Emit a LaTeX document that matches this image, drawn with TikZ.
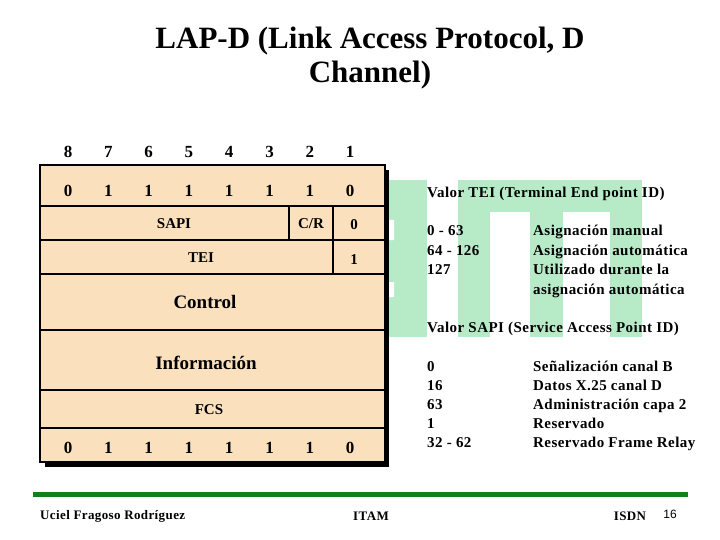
\documentclass[tikz,border=0pt]{standalone}
\usepackage{fontspec}
\setmainfont{Liberation Serif}
\newfontfamily\pagesans{Liberation Sans}
\newfontfamily\notefont[LetterSpace=3]{Liberation Serif}
\usetikzlibrary{positioning}
\definecolor{framefill}{RGB}{251,224,189}
\definecolor{logogreen}{RGB}{183,235,200}
\definecolor{rulegreen}{RGB}{18,128,28}

\tikzset{
  bitlbl/.style={font=\bfseries\fontsize{17}{17}\selectfont, inner sep=0pt},
  fieldlbl/.style={font=\bfseries\fontsize{15}{15}\selectfont, inner sep=0pt},
  bigfield/.style={font=\bfseries\fontsize{19}{19}\selectfont, inner sep=0pt},
  infotxt/.style={font=\notefont\bfseries\fontsize{15}{15}\selectfont, anchor=base west, inner sep=0pt},
  foottxt/.style={font=\notefont\bfseries\fontsize{13}{13}\selectfont, inner sep=0pt}
}

\begin{document}
\begin{tikzpicture}[x=1pt, y=-1pt]
    \useasboundingbox (0,0) rectangle (720,540);

    % title
    \node[font=\bfseries\fontsize{31}{34}\selectfont, align=center] (title) at (370,58)
        {LAP-D (Link Access Protocol, D\\Channel)};

    % logo behind the notes
    \fill[logogreen] (388,180) rectangle (427,337);
    \fill[white] (388,220) rectangle (394,240) (388,282) rectangle (394,297);
    \fill[logogreen] (458,180) rectangle (642,212);
    \fill[logogreen] (458,180) rectangle (490,337);
    \fill[logogreen] (530,180) rectangle (563,337);
    \fill[logogreen] (610,180) rectangle (642,337);

    % frame layout
    \fill[black] (45,170) rectangle (389,467);
    \draw[fill=framefill, line width=2pt] (40,165) rectangle (385,462);
    \foreach \yy in {206,240,274,330,390,428}
        \draw[line width=2pt] (40,\yy) -- (385,\yy);
    \draw[line width=2pt] (289,206) -- (289,240);
    \draw[line width=2pt] (333,206) -- (333,274);

    \foreach \b [count=\i] in {8,7,6,5,4,3,2,1}
        \node[bitlbl] (hdr\b) at ({68+40.3*(\i-1)},152) {\b};
    \foreach \v [count=\i] in {0,1,1,1,1,1,1,0} {
        \node[bitlbl] (open\i) at ({68+40.3*(\i-1)},191) {\v};
        \node[bitlbl] (close\i) at ({68+40.3*(\i-1)},448) {\v};
    }

    \node[fieldlbl] (sapi) at (174,224) {SAPI};
    \node[fieldlbl] (cr) at (311,224) {C/R};
    \node[fieldlbl] (ea0) at (354,225) {0};
    \node[fieldlbl] (tei) at (201,258) {TEI};
    \node[fieldlbl] (ea1) at (354,260) {1};
    \node[bigfield] (control) at (205,302) {Control};
    \node[bigfield] (info) at (206,363) {Información};
    \node[fieldlbl] (fcs) at (209,410) {FCS};

    % notes
    \node[infotxt] (teihead) at (427,198) {Valor TEI (Terminal End point ID)};
    \node[infotxt] (teia) at (427,236) {0 - 63};
    \node[infotxt] (teib) at (427,255) {64 - 126};
    \node[infotxt] (teic) at (427,274) {127};
    \node[infotxt] (teiadesc) at (533,236) {Asignación manual};
    \node[infotxt] (teibdesc) at (533,255) {Asignación automática};
    \node[infotxt] (teicdesc) at (533,274) {Utilizado durante la};
    \node[infotxt] (teiddesc) at (533,294) {asignación automática};

    \node[infotxt] (sapihead) at (427,332) {Valor SAPI (Service Access Point ID)};
    \foreach \val/\what [count=\i] in {0/Señalización canal B, 16/Datos X.25 canal D,
            63/Administración capa 2, 1/Reservado, 32 - 62/Reservado Frame Relay} {
        \node[infotxt] (sapival\i) at (427,{371+19*(\i-1)}) {\val};
        \node[infotxt] (sapiuse\i) at (533,{371+19*(\i-1)}) {\what};
    }

    % footer
    \draw[rulegreen, line width=5pt] (33,494) -- (688,494);
    \node[foottxt, anchor=west] (author) at (40,516) {Uciel Fragoso Rodríguez};
    \node[foottxt] (school) at (371,516) {ITAM};
    \node[foottxt] (course) at (630,516) {ISDN};
    \node[font=\pagesans\fontsize{12}{12}\selectfont, inner sep=0pt] (pageno) at (670,514) {16};
\end{tikzpicture}
\end{document}
